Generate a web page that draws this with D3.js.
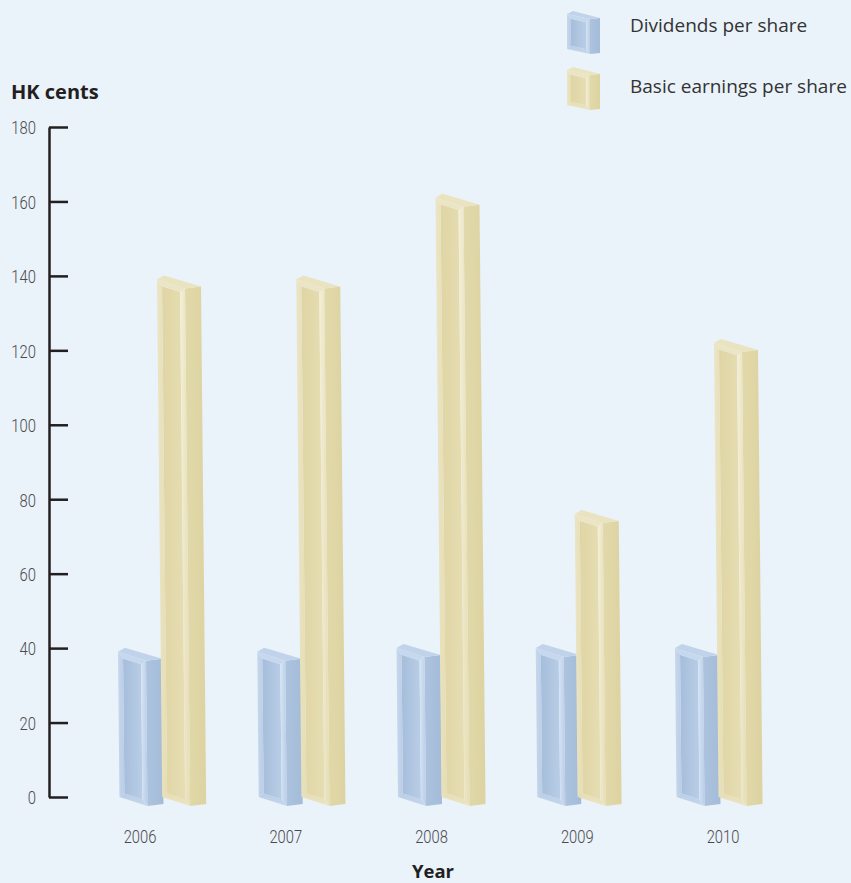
<!DOCTYPE html>
<html><head><meta charset="utf-8">
<script src="https://cdn.jsdelivr.net/npm/d3@7"></script>
<style>
html,body{margin:0;padding:0;background:#eaf2fa;}
svg{display:block;}
</style></head><body>
<svg id="chart" width="851" height="883"></svg>
<script>
// Per-share figures, HK cents
const years = ["2006", "2007", "2008", "2009", "2010"];
const dividends = [39, 39, 40, 40, 40];
const earnings = [139, 139, 161, 76, 122];
const yTicks = [0, 20, 40, 60, 80, 100, 120, 140, 160, 180];
const seriesNames = ["Dividends per share", "Basic earnings per share"];

const W = 851, H = 883;
const svg = d3.select("#chart");
svg.append("rect").attr("width", W).attr("height", H).attr("fill", "#eaf2fa");
const defs = svg.append("defs");

const y = d3.scaleLinear().domain([0, 180]).range([797, 127]);
const xLabel = d3.scalePoint().domain(years).range([140, 723]);
const xBar = d3.scalePoint().domain(years).range([118, 675]);
const pairOffset = 39;

const palettes = {
  blue: {base: "#a6bedb", light: "#b9cde6", lighter: "#c6d8ed", hi: "#d6e5f5", side: "#a4bcd9", sideLight: "#adc3de", top: "#c0d3ea"},
  yellow: {base: "#dfd5a4", light: "#e6ddb3", lighter: "#ece5c5", hi: "#f4efd8", side: "#ddd3a1", sideLight: "#e2d9ab", top: "#eae3c0"}
};

function gradient(id, c0, c1, horizontal) {
  const g = defs.append("linearGradient").attr("id", id)
    .attr("x1", 0).attr("y1", 0)
    .attr("x2", horizontal ? 1 : 0).attr("y2", horizontal ? 0 : 1);
  g.append("stop").attr("offset", 0).attr("stop-color", c0);
  g.append("stop").attr("offset", 1).attr("stop-color", c1);
  return `url(#${id})`;
}

// shared fills per palette
const fills = {};
for (const [k, p] of Object.entries(palettes)) {
  fills[k] = {
    inner: gradient(`inner-${k}`, p.base, p.light, true),
    left: gradient(`left-${k}`, p.lighter, p.light, true),
    right: gradient(`right-${k}`, p.hi, p.light, true),
    top: p.lighter,
    bottom: gradient(`bottom-${k}`, p.light, p.lighter, false),
    side: gradient(`side-${k}`, p.sideLight, p.side, true),
    lid: p.top
  };
}

const line = pts => "M" + pts.map(p => p.join(",")).join("L") + "Z";

// A bevelled box seen slightly from above and from the left
function drawBox(g, x0, yT, yB, key, s) {
  const f = fills[key];
  const h = yB - yT;
  const lean = h * s.lean;
  const P = (u, v) => [x0 + u * s.fw + v * lean, yT + h * v + u * s.drop];
  const ub = s.bevel / s.fw, vb = Math.min(s.bevel / h, 0.3);
  const B = P(1, 0), Bb = P(1, 1);
  const C = [B[0] + s.sw, B[1] - s.rise], Cb = [Bb[0] + s.sw, Bb[1] - s.rise];
  const A = P(0, 0), D = [A[0] + s.backDx, A[1] - s.backDy];
  // side face
  g.append("path").attr("d", line([B, C, Cb, Bb])).attr("fill", f.side);
  // lid
  g.append("path").attr("d", line([A, D, C, B])).attr("fill", f.lid);
  // front face and bevels
  g.append("path").attr("d", line([P(ub, vb), P(1 - ub, vb), P(1 - ub, 1 - vb), P(ub, 1 - vb)])).attr("fill", f.inner);
  g.append("path").attr("d", line([P(0, 0), P(ub, vb), P(ub, 1 - vb), P(0, 1)])).attr("fill", f.left);
  g.append("path").attr("d", line([P(1, 0), P(1, 1), P(1 - ub, 1 - vb), P(1 - ub, vb)])).attr("fill", f.right);
  g.append("path").attr("d", line([P(0, 0), P(1, 0), P(1 - ub, vb), P(ub, vb)])).attr("fill", f.top);
  g.append("path").attr("d", line([P(0, 1), P(1, 1), P(1 - ub, 1 - vb), P(ub, 1 - vb)])).attr("fill", f.bottom);
}

const barShape = {fw: 28, sw: 16, drop: 9, rise: 2, backDx: 7, backDy: 4, bevel: 5, lean: 0.01};
const iconShape = {fw: 23, sw: 10, drop: 5, rise: 1, backDx: 6, backDy: 3, bevel: 4, lean: 0};

// bars
const bars = svg.append("g").attr("class", "bars");
years.forEach((yr, i) => {
  const xb = xBar(yr);
  drawBox(bars.append("g"), xb, y(dividends[i]), y(0), "blue", barShape);
  drawBox(bars.append("g"), xb + pairOffset, y(earnings[i]), y(0), "yellow", barShape);
});

// condensed light numerals
const numFont = "Roboto, 'Liberation Sans', sans-serif";
const squeeze = 0.78;

// y axis
const axis = svg.append("g").attr("transform", "translate(49,0)")
  .call(d3.axisLeft(y).tickValues(yTicks).tickSize(-19).tickSizeOuter(0).tickPadding(13));
axis.select(".domain").attr("stroke", "#231f20").attr("stroke-width", 2.5);
axis.selectAll(".tick line").attr("stroke", "#231f20").attr("stroke-width", 2.5);
axis.selectAll(".tick text")
  .attr("font-family", numFont).attr("font-weight", 300)
  .attr("font-size", 19).attr("fill", "#4a4a4a").attr("dy", "0.36em")
  .attr("x", -13 / squeeze).attr("transform", `scale(${squeeze},1)`);

// year labels
svg.append("g").selectAll("text").data(years).join("text")
  .attr("transform", d => `translate(${xLabel(d)},843) scale(0.82,1)`)
  .attr("text-anchor", "middle")
  .attr("font-family", numFont).attr("font-weight", 300)
  .attr("font-size", 18).attr("fill", "#4a4a4a")
  .text(d => d);

// axis titles
svg.append("text").attr("x", 11).attr("y", 99)
  .attr("font-family", "'Open Sans', sans-serif").attr("font-weight", 700)
  .attr("font-size", 20).attr("fill", "#231f20").text("HK cents");
svg.append("text").attr("x", 433).attr("y", 878).attr("text-anchor", "middle")
  .attr("font-family", "'Open Sans', sans-serif").attr("font-weight", 700)
  .attr("font-size", 18.5).attr("fill", "#231f20").text("Year");

// legend
const legend = svg.append("g");
const legendKeys = ["blue", "yellow"];
const legendIconY = d3.scalePoint().domain(seriesNames).range([14, 70]);
const legendTextY = d3.scalePoint().domain(seriesNames).range([32, 93]);
seriesNames.forEach((name, i) => {
  const ly = legendIconY(name);
  drawBox(legend.append("g"), 567, ly, ly + 35, legendKeys[i], iconShape);
  legend.append("text").attr("x", 630).attr("y", legendTextY(name))
    .attr("font-family", "'Open Sans', sans-serif").attr("font-size", 19)
    .attr("fill", "#333").text(name);
});
</script>
</body></html>
